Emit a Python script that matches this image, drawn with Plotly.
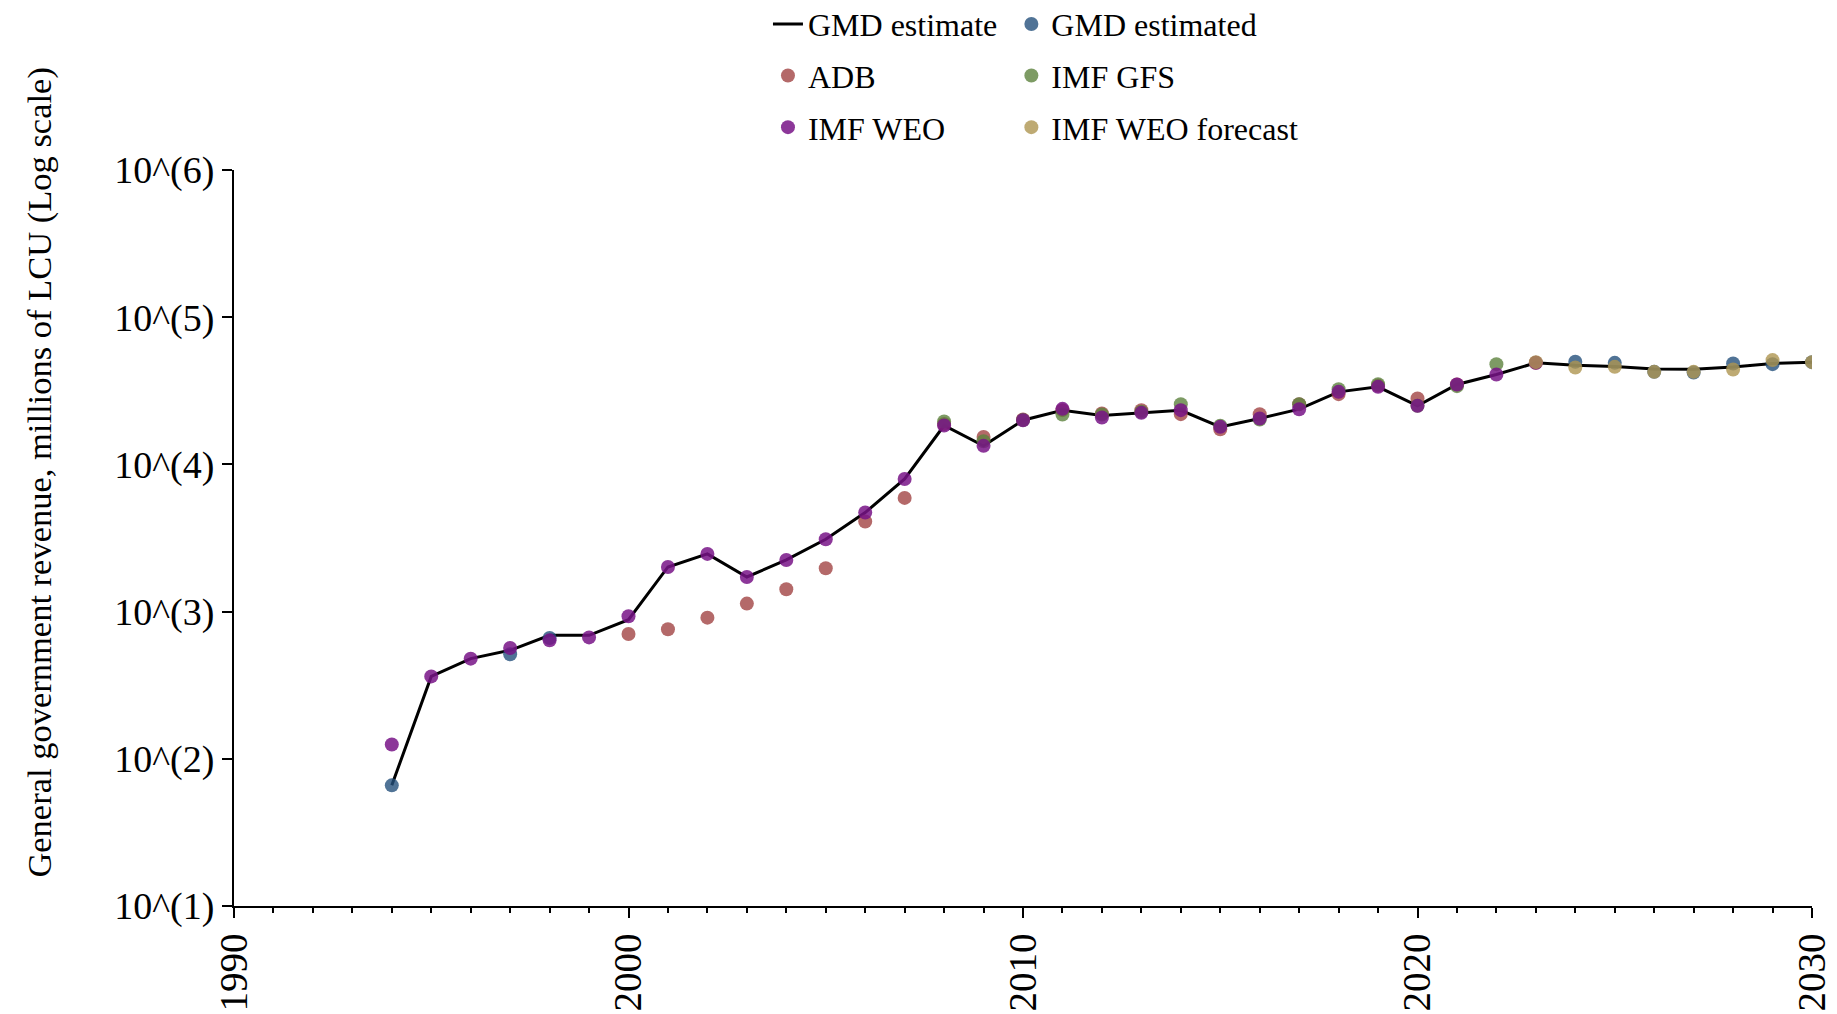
import plotly.graph_objects as go

# ---- data ----
line_years = list(range(1994, 2031))
gmd_estimate = [66, 363, 479, 546, 690, 690, 880, 2010, 2465, 1718, 2244, 3100, 4710, 7960,
                18380, 13370, 19970, 23350, 21500, 22390, 23300, 17990, 20510, 23720, 31100,
                33630, 24990, 34920, 40840, 48980, 47200, 46200, 44400, 44300, 45900, 48500, 49500]

gmd_estd_years = [1994, 1997, 1998, 2024, 2025, 2026, 2027, 2028, 2029, 2030]
gmd_estd_vals = [66, 513, 662, 49780, 48980, 42540, 42100, 48500, 47970, 49500]

adb_years = list(range(2000, 2022)) + [2023]
adb_vals = [704, 758, 910, 1133, 1418, 1969, 4090, 5920, 18800, 15380, 20200, 23360, 22180,
            23360, 21940, 17350, 21940, 25660, 30000, 34300, 28060, 34900, 49000]

gfs_years = list(range(2008, 2023))
gfs_vals = [19580, 14380, 20000, 21830, 21830, 22800, 25660, 18300, 20200, 25660, 32460,
            35090, 25000, 34000, 47970]

weo_years = list(range(1994, 2024))
weo_vals = [125, 363, 479, 566, 638, 668, 929, 2010, 2465, 1718, 2244, 3100, 4710, 7960,
            18380, 13370, 19970, 23850, 20840, 22390, 23360, 17990, 20510, 23720, 31100,
            33630, 24990, 34920, 40840, 48980]

fc_years = list(range(2023, 2031))
fc_vals = [49500, 45570, 46000, 42540, 42540, 44170, 51100, 49500]

ytick_vals = [10, 100, 1000, 10000, 100000, 1000000]
ytick_text = ["10^(1)", "10^(2)", "10^(3)", "10^(4)", "10^(5)", "10^(6)"]
xtick_vals = [1990, 2000, 2010, 2020, 2030]
y_title = "General government revenue, millions of LCU (Log scale)"

FONT = "Liberation Serif"
MS = 14

fig = go.Figure()
fig.add_trace(go.Scatter(x=line_years, y=gmd_estimate, mode="lines", name="GMD estimate",
                         line=dict(color="black", width=3), legend="legend", legendgroup="a"))
fig.add_trace(go.Scatter(x=gmd_estd_years, y=gmd_estd_vals, mode="markers", name="GMD estimated",
                         marker=dict(color="rgb(36,80,124)", size=MS, opacity=0.8),
                         legend="legend2", legendgroup="b"))
fig.add_trace(go.Scatter(x=adb_years, y=adb_vals, mode="markers", name="ADB",
                         marker=dict(color="rgb(161,67,67)", size=MS, opacity=0.8),
                         legend="legend", legendgroup="c"))
fig.add_trace(go.Scatter(x=gfs_years, y=gfs_vals, mode="markers", name="IMF GFS",
                         marker=dict(color="rgb(92,130,61)", size=MS, opacity=0.8),
                         legend="legend2", legendgroup="d"))
fig.add_trace(go.Scatter(x=weo_years, y=weo_vals, mode="markers", name="IMF WEO",
                         marker=dict(color="rgb(120,20,135)", size=MS, opacity=0.85),
                         legend="legend", legendgroup="e"))
fig.add_trace(go.Scatter(x=fc_years, y=fc_vals, mode="markers", name="IMF WEO forecast",
                         marker=dict(color="rgb(174,149,80)", size=MS, opacity=0.8),
                         legend="legend2", legendgroup="f"))

legend_common = dict(xanchor="left", yanchor="top", xref="container", yref="paper",
                     font=dict(family=FONT, size=32, color="black"),
                     tracegroupgap=7, bgcolor="rgba(0,0,0,0)", traceorder="grouped")

fig.update_layout(
    width=1837, height=1014,
    margin=dict(l=226, r=33, t=162, b=116, autoexpand=False),
    plot_bgcolor="white", paper_bgcolor="white",
    font=dict(family=FONT, color="black"),
    showlegend=True,
    legend=dict(x=0.4137, y=1.2355, **legend_common),
    legend2=dict(x=0.5462, y=1.2355, **legend_common),
    xaxis=dict(range=[1990, 2030], tickvals=xtick_vals, ticks="outside", ticklen=10, tickwidth=2,
               tickcolor="black", tickangle=-90, tickfont=dict(family=FONT, size=39),
               showline=True, linecolor="black", linewidth=2, showgrid=False, zeroline=False,
               minor=dict(dtick=1, ticks="outside", ticklen=5, tickwidth=1.5, tickcolor="black",
                          showgrid=False)),
    yaxis=dict(type="log", range=[1, 6], tickvals=ytick_vals, ticktext=ytick_text,
               ticks="outside", ticklen=10, tickwidth=2, tickcolor="black",
               tickfont=dict(family=FONT, size=38),
               showline=True, linecolor="black", linewidth=2, showgrid=False, zeroline=False),
    annotations=[dict(text=y_title, xref="paper", yref="paper", x=-0.1235, y=0.589,
                      xanchor="center", yanchor="middle", textangle=-90, showarrow=False,
                      font=dict(family=FONT, size=34.5, color="black"))],
)

fig.write_html("out.html")
